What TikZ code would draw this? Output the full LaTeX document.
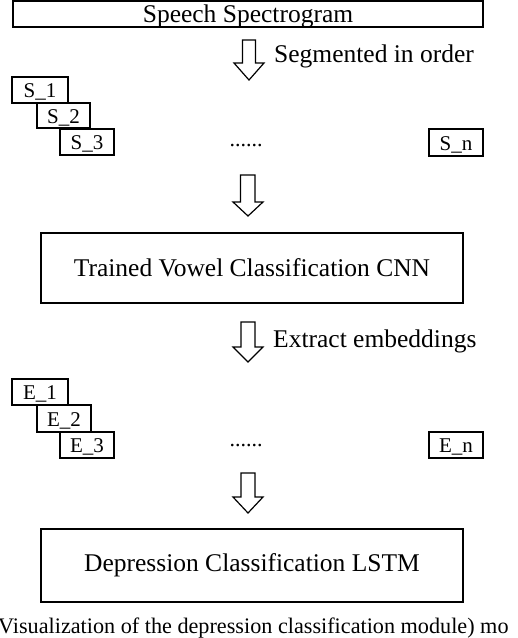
\documentclass[tikz,border=0pt]{standalone}
\usepackage{fontspec}
\setmainfont{Liberation Serif}
\begin{document}
\begin{tikzpicture}[x=1pt,y=-1pt,
  bigbox/.style={draw=black,line width=1.4pt,fill=white,inner sep=0pt,
    font=\fontsize{25.5}{28}\selectfont,text depth=0pt},
  segbox/.style={draw=black,line width=1.8pt,fill=white,inner sep=0pt,
    minimum width=54pt,minimum height=26pt,
    font=\fontsize{21}{24}\selectfont,text height=15pt,text depth=0pt},
  steplabel/.style={inner sep=0pt,anchor=base west,font=\fontsize{25.5}{28}\selectfont},
  dotslabel/.style={inner sep=0pt,anchor=base,font=\fontsize{22}{24}\selectfont},
  blockarrow/.style={draw=black,line width=1.2pt,fill=white,line join=miter}
]
\useasboundingbox (0,0) rectangle (518,638);
\clip (0,0) rectangle (518,638);

% top box
\node[bigbox,minimum width=470pt,minimum height=26pt] (spec) at (248,14) {Speech Spectrogram};

% arrow 1
\draw[blockarrow] (242.5,40) -- (255.5,40) -- (255.5,63) -- (264,63) -- (249,80) -- (234,63) -- (242.5,63) -- cycle;
\node[steplabel] (seglab) at (274,62.5) {Segmented in order};

% segments
\node[segbox,minimum width=56pt] (s1) at (40,90) {S\_1};
\node[segbox,minimum width=53pt,minimum height=25pt] (s2) at (63.5,115.5) {S\_2};
\node[segbox] (s3) at (87,142) {S\_3};
\node[dotslabel] (sdots) at (246,146) {......};
\node[segbox,minimum height=27pt] (sn) at (456,142.5) {S\_n};

% arrow 2
\draw[blockarrow] (240.5,175) -- (255,175) -- (255,202) -- (263,202) -- (248,216) -- (233,202) -- (240.5,202) -- cycle;

% CNN box
\node[bigbox,line width=1.2pt,minimum width=422pt,minimum height=70pt] (cnn) at (252,268) {Trained Vowel Classification CNN};

% arrow 3
\draw[blockarrow] (241,322) -- (255,322) -- (255,347) -- (263,347) -- (248,362) -- (233,347) -- (241,347) -- cycle;
\node[steplabel] (extlab) at (273,347) {Extract embeddings};

% embeddings
\node[segbox,minimum width=56pt] (e1) at (40,392) {E\_1};
\node[segbox,minimum height=27pt] (e2) at (64,418.5) {E\_2};
\node[segbox] (e3) at (87,445) {E\_3};
\node[dotslabel] (edots) at (246,446) {......};
\node[segbox] (en) at (456,445) {E\_n};

% arrow 4
\draw[blockarrow] (241,473) -- (255,473) -- (255,497) -- (263,497) -- (248,513) -- (233,497) -- (241,497) -- cycle;

% LSTM box
\node[bigbox,line width=1.8pt,minimum width=422pt,minimum height=73pt,text depth=5.5pt] (lstm) at (252,565.5) {Depression Classification LSTM};

% caption (cut off at the edges, as in the reference)
\node[inner sep=0pt,anchor=base west,font=\fontsize{22.2}{24}\selectfont] (cap) at (-2,633) {Visualization of the depression classification module) mo};
\end{tikzpicture}
\end{document}
